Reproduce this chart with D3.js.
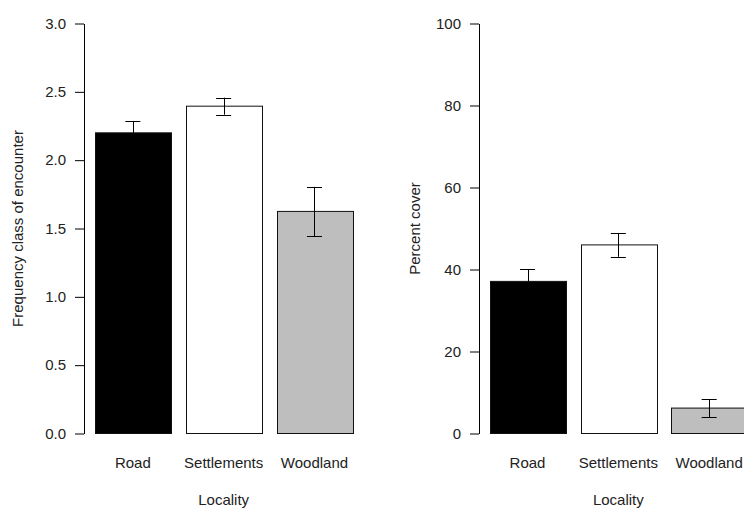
<!DOCTYPE html>
<html>
<head>
<meta charset="utf-8">
<script src="https://cdn.jsdelivr.net/npm/d3@7"></script>
<style>
  html, body { margin: 0; padding: 0; background: #fff; }
  svg { display: block; font-family: Arial, "Liberation Sans", sans-serif; }
  .tick text { font-size: 15px; fill: #222; }
</style>
</head>
<body>
<script>
// Locality categories and bar fills
const categories = ["Road", "Settlements", "Woodland"];
const barFills = ["#000000", "#ffffff", "#bebebe"];

// Frequency class of encounter: means and standard errors
const freqMeans = [2.20, 2.395, 1.625];
const freqErrors = [0.085, 0.062, 0.18];
const freqTicks = [0, 0.5, 1.0, 1.5, 2.0, 2.5, 3.0];

// Percent cover: means and standard errors
const coverMeans = [37.1, 46.0, 6.2];
const coverErrors = [3.0, 2.9, 2.2];
const coverTicks = [0, 20, 40, 60, 80, 100];

const W = 744, H = 509;
const svg = d3.select("body").append("svg")
  .attr("width", W).attr("height", H);

function panel(opts) {
  const g = svg.append("g");
  const y = d3.scaleLinear().domain(opts.yDomain).range([433.5, 23.5]);
  const x = d3.scaleBand().domain(categories)
    .range(opts.xRange).paddingInner(0.2 / 1.2).paddingOuter(0);

  // bars
  g.selectAll("rect.bar").data(categories).join("rect")
    .attr("class", "bar")
    .attr("x", d => Math.round(x(d)) + 0.5)
    .attr("width", Math.round(x.bandwidth()))
    .attr("y", (d, i) => y(opts.means[i]))
    .attr("height", (d, i) => y(0) - y(opts.means[i]))
    .attr("fill", (d, i) => barFills[i])
    .attr("stroke", "#111").attr("stroke-width", 1);

  // error bars (mean ± SE with flat caps)
  const cap = 7.5;
  const eb = g.selectAll("g.err").data(categories).join("g")
    .attr("class", "err")
    .attr("stroke", "#000").attr("stroke-width", 1);
  eb.append("line")
    .attr("x1", d => Math.round(x(d) + x.bandwidth() / 2) + 0.5)
    .attr("x2", d => Math.round(x(d) + x.bandwidth() / 2) + 0.5)
    .attr("y1", (d, i) => y(opts.means[i] - opts.errors[i]))
    .attr("y2", (d, i) => y(opts.means[i] + opts.errors[i]));
  [-1, 1].forEach(s => {
    eb.append("line")
      .attr("x1", d => x(d) + x.bandwidth() / 2 - cap)
      .attr("x2", d => x(d) + x.bandwidth() / 2 + cap)
      .attr("y1", (d, i) => Math.round(y(opts.means[i] + s * opts.errors[i])) + 0.5)
      .attr("y2", (d, i) => Math.round(y(opts.means[i] + s * opts.errors[i])) + 0.5);
  });

  // y axis
  const ax = g.append("g")
    .attr("transform", `translate(${opts.axisX},0)`)
    .call(d3.axisLeft(y).tickValues(opts.ticks).tickFormat(opts.fmt)
      .tickSize(9).tickSizeOuter(0).tickPadding(9));
  ax.selectAll("path, line").attr("stroke", "#000");
  ax.selectAll("text").attr("font-family", null);

  // category labels
  g.selectAll("text.cat").data(categories).join("text")
    .attr("class", "cat")
    .attr("x", d => x(d) + x.bandwidth() / 2)
    .attr("y", 468)
    .attr("text-anchor", "middle")
    .attr("font-size", 15).attr("fill", "#222")
    .text(d => d);

  // axis titles
  g.append("text")
    .attr("x", (opts.xRange[0] + opts.xRange[1]) / 2).attr("y", 505)
    .attr("text-anchor", "middle").attr("font-size", 15).attr("fill", "#222")
    .text("Locality");
  g.append("text")
    .attr("transform", `translate(${opts.titleX},${(y(opts.yDomain[0]) + y(opts.yDomain[1])) / 2}) rotate(-90)`)
    .attr("text-anchor", "middle").attr("font-size", 15).attr("fill", "#222")
    .text(opts.title);
}

panel({
  yDomain: [0, 3], ticks: freqTicks, fmt: d3.format(".1f"),
  means: freqMeans, errors: freqErrors,
  xRange: [95, 352.3], axisX: 84,
  title: "Frequency class of encounter", titleX: 23
});

panel({
  yDomain: [0, 100], ticks: coverTicks, fmt: d3.format("d"),
  means: coverMeans, errors: coverErrors,
  xRange: [489.7, 747], axisX: 479,
  title: "Percent cover", titleX: 420
});
</script>
</body>
</html>
